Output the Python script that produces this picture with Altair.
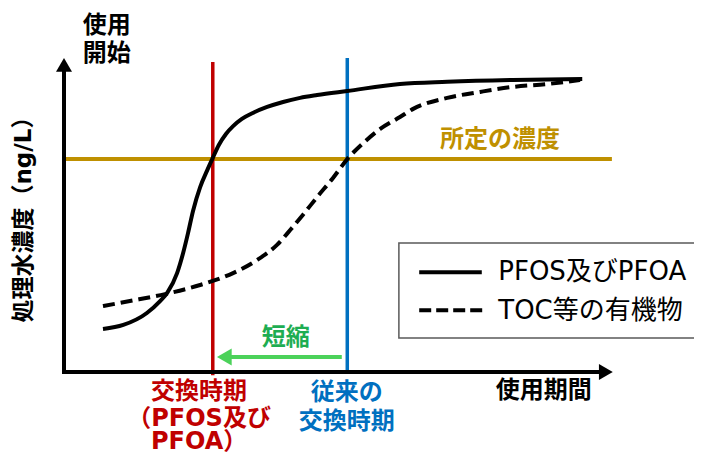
import altair as alt
import pandas as pd

# ---- data (abstract units: time 0-100, concentration 0-100) ----
solid_t = [7.1, 10.8, 15.1, 17.5, 18.8, 20.6, 21.7, 22.6, 23.5, 24.8, 26.1, 27.1, 28.2, 29.5,
           30.8, 32.4, 34.4, 37.0, 39.9, 43.0, 46.1, 51.6, 61.2, 69.8, 81.8, 94.4]
solid_v = [13.7, 15.0, 18.8, 22.6, 25.2, 31.5, 37.9, 44.3, 51.3, 58.9, 64.3, 68.2, 72.3, 75.8,
           78.3, 80.6, 82.5, 84.4, 86.0, 87.3, 88.2, 89.5, 91.7, 92.4, 93.0, 93.3]

dash_t = [7.1, 12.0, 18.4, 24.8, 27.1, 30.8, 35.2, 38.8, 41.2, 43.5, 46.1, 49.0, 51.6,
          54.5, 57.6, 61.2, 63.6, 69.8, 75.8, 81.8, 88.0, 94.0]
dash_v = [21.0, 22.6, 24.8, 27.7, 29.0, 31.5, 35.7, 40.5, 45.2, 50.0, 55.7, 61.8, 67.8,
          72.9, 77.4, 81.2, 83.8, 87.3, 89.2, 90.8, 91.7, 93.0]

threshold = 67.8          # 所定の濃度
t_new = 27.1              # 交換時期（PFOS及びPFOA）
t_old = 51.6              # 従来の交換時期

series_names = ["PFOS及びPFOA", "TOC等の有機物"]

RED = "#C00000"
BLUE = "#0070C0"
GOLD = "#BF9000"
GREEN = "#4CD25A"
GREEN_TXT = "#1EAD52"
FONT = "DejaVu Sans, Noto Sans CJK JP"

xs = alt.Scale(domain=[0, 100], nice=False, zero=False)
ys = alt.Scale(domain=[0, 100], nice=False, zero=False)


def X(f="t"):
    return alt.X(f"{f}:Q", scale=xs, axis=None)


def Y(f="v"):
    return alt.Y(f"{f}:Q", scale=ys, axis=None)


solid_df = pd.DataFrame({"t": solid_t, "v": solid_v})
dash_df = pd.DataFrame({"t": dash_t, "v": dash_v})

# legend box
box = alt.Chart(pd.DataFrame({"t": [61.0], "t2": [118.0], "v": [41.1], "v2": [10.8]})).mark_rect(
    fill="white", stroke="#595959", strokeWidth=1.5, clip=False
).encode(x=X(), x2="t2:Q", y=Y(), y2="v2:Q")

gold = alt.Chart(pd.DataFrame({"t": [0.0], "t2": [99.8], "v": [threshold]})).mark_rule(
    color=GOLD, strokeWidth=4, clip=False
).encode(x=X(), x2="t2:Q", y=Y())

red = alt.Chart(pd.DataFrame({"t": [t_new], "v": [-1.0], "v2": [98.7]})).mark_rule(
    color=RED, strokeWidth=3.5, clip=False
).encode(x=X(), y=Y(), y2="v2:Q")

blue = alt.Chart(pd.DataFrame({"t": [t_old], "v": [0.6], "v2": [100.0]})).mark_rule(
    color=BLUE, strokeWidth=3.5, clip=False
).encode(x=X(), y=Y(), y2="v2:Q")

# axes
yaxis = alt.Chart(pd.DataFrame({"t": [0.0], "v": [-0.6], "v2": [97.8]})).mark_rule(
    color="black", strokeWidth=4, clip=False
).encode(x=X(), y=Y(), y2="v2:Q")
xaxis = alt.Chart(pd.DataFrame({"t": [-0.36], "t2": [98.7], "v": [0.0]})).mark_rule(
    color="black", strokeWidth=4, clip=False
).encode(x=X(), x2="t2:Q", y=Y())
yhead = alt.Chart(pd.DataFrame({"t": [0.0], "v": [97.8]})).mark_point(
    shape="triangle-up", filled=True, size=256, color="black", opacity=1, clip=False
).encode(x=X(), y=Y())
xhead = alt.Chart(pd.DataFrame({"t": [98.7], "v": [0.0]})).mark_point(
    shape="triangle-right", filled=True, size=256, color="black", opacity=1, clip=False
).encode(x=X(), y=Y())

solid = alt.Chart(solid_df).mark_line(
    color="black", strokeWidth=4, interpolate="monotone", strokeCap="butt", clip=False
).encode(x=X(), y=Y(), order="t:Q")
dashed = alt.Chart(dash_df).mark_line(
    color="black", strokeWidth=4, interpolate="monotone", strokeDash=[12, 6], strokeCap="butt", clip=False
).encode(x=X(), y=Y(), order="t:Q")

# legend samples
leg_solid = alt.Chart(pd.DataFrame({"t": [64.7], "t2": [76.1], "v": [31.8]})).mark_rule(
    color="black", strokeWidth=4, clip=False
).encode(x=X(), x2="t2:Q", y=Y())
leg_dash = alt.Chart(pd.DataFrame({"t": [64.7], "t2": [76.3], "v": [19.7]})).mark_rule(
    color="black", strokeWidth=4, strokeDash=[12, 5], clip=False
).encode(x=X(), x2="t2:Q", y=Y())
leg_text = alt.Chart(pd.DataFrame({"t": [79.1, 79.1], "v": [31.8, 19.5], "label": series_names})).mark_text(
    align="left", baseline="middle", font=FONT, fontSize=26, fontWeight="normal", color="black", clip=False
).encode(x=X(), y=Y(), text="label:N")

# green arrow (短縮)
g_rule = alt.Chart(pd.DataFrame({"t": [29.2], "t2": [50.6], "v": [4.8]})).mark_rule(
    color=GREEN, strokeWidth=4, clip=False
).encode(x=X(), x2="t2:Q", y=Y())
g_head = alt.Chart(pd.DataFrame({"t": [29.2], "v": [4.8]})).mark_point(
    shape="triangle-left", filled=True, size=289, color=GREEN, opacity=1, clip=False
).encode(x=X(), y=Y())

# labels
labels = pd.DataFrame({
    "t": [7.8, 7.8, 87.4, 24.6, 24.6, 24.6, 51.5, 51.5, 40.4, 79.4],
    "v": [110.2, 101.3, -6.1, -6.4, -15.0, -22.4, -6.7, -15.9, 10.8, 73.9],
    "label": ["使用", "開始", "使用期間", "交換時期", "（PFOS及び", "PFOA）",
              "従来の", "交換時期", "短縮", "所定の濃度"],
    "col": ["black", "black", "black", RED, RED, RED, BLUE, BLUE, GREEN_TXT, GOLD],
})
lab = alt.Chart(labels).mark_text(
    align="center", baseline="middle", font=FONT, fontSize=24, fontWeight="bold", clip=False
).encode(x=X(), y=Y(), text="label:N", color=alt.Color("col:N", scale=None))

ytitle = alt.Chart(pd.DataFrame({"t": [-7.3], "v": [50.3], "label": ["処理水濃度（ng/L）"]})).mark_text(
    align="center", baseline="middle", font=FONT, fontSize=23, fontWeight="bold", angle=270,
    color="black", clip=False
).encode(x=X(), y=Y(), text="label:N")

chart = alt.layer(
    box, gold, red, blue, yaxis, xaxis, yhead, xhead, solid, dashed,
    leg_solid, leg_dash, leg_text, g_rule, g_head, lab, ytitle
).properties(
    width=549, height=314,
    autosize=alt.AutoSizeParams(type="none"),
    padding={"left": 56, "top": 50, "right": 81, "bottom": 82},
).configure_view(stroke=None)

chart.save("out.html", embed_options={"renderer": "svg", "actions": False})
